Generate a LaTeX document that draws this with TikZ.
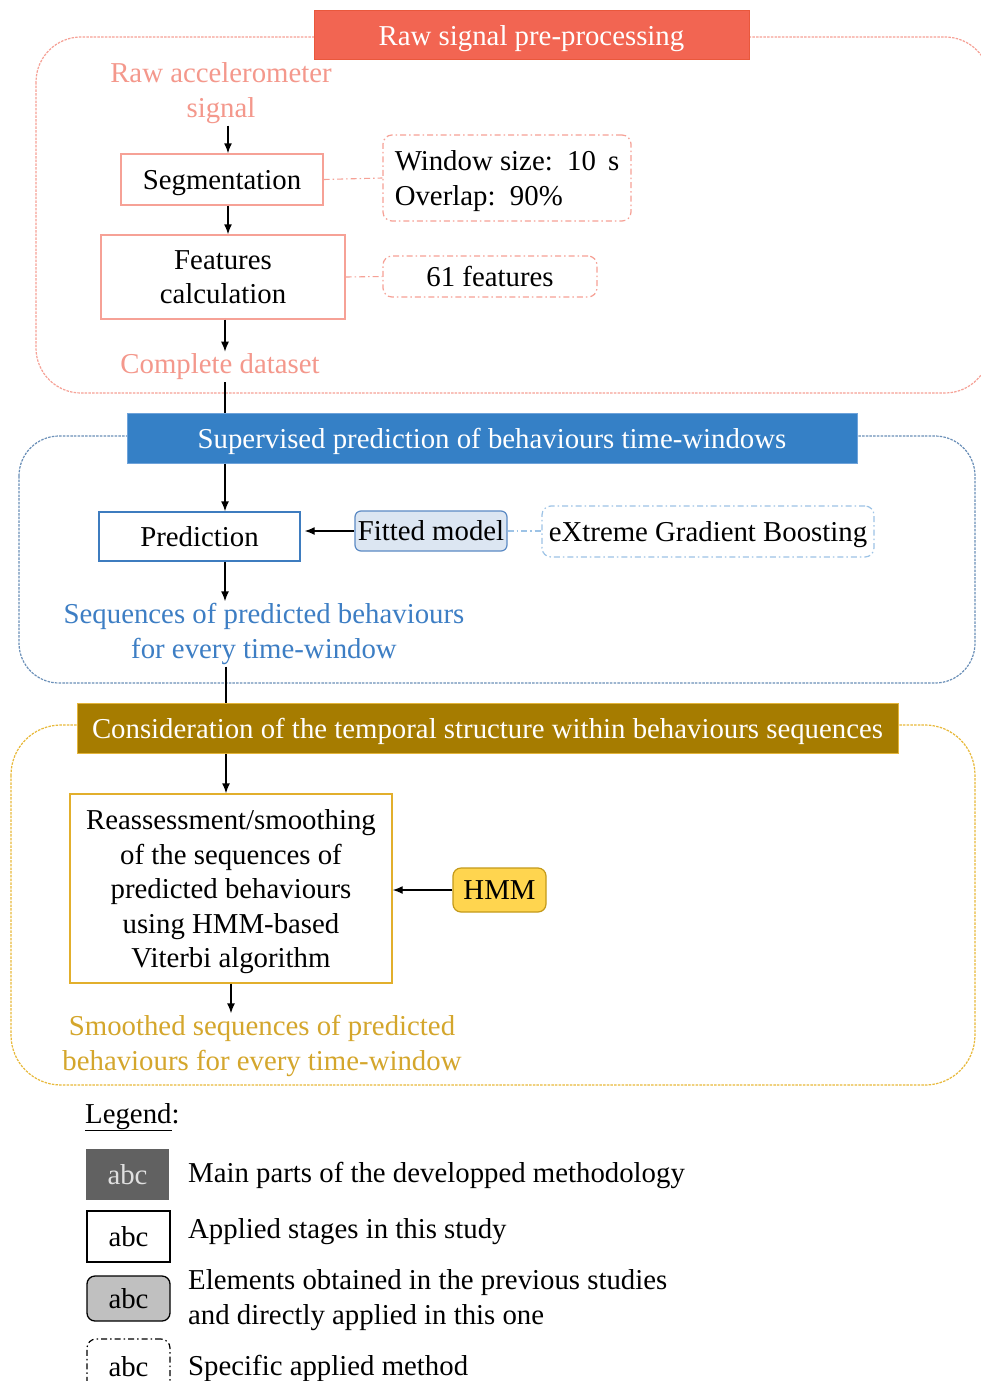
\documentclass[tikz,border=0pt]{standalone}
\usepackage{fontspec}
\setmainfont{Liberation Serif}
\usetikzlibrary{arrows.meta,calc}
\definecolor{salHead}{HTML}{F26552}
\definecolor{salHeadB}{HTML}{E9583C}
\definecolor{salLine}{HTML}{F6A196}
\definecolor{salText}{HTML}{F4988C}
\definecolor{bluHead}{HTML}{3580C6}
\definecolor{bluHeadB}{HTML}{6FA3DA}
\definecolor{bluCont}{HTML}{6A8FB8}
\definecolor{bluBox}{HTML}{3E7CBF}
\definecolor{bluText}{HTML}{3D7EC4}
\definecolor{bluFill}{HTML}{DCE6F2}
\definecolor{bluFillB}{HTML}{5B8AC4}
\definecolor{bluLight}{HTML}{9DC3E6}
\definecolor{gldHead}{HTML}{A67C00}
\definecolor{gldHeadB}{HTML}{E3B43A}
\definecolor{gldCont}{HTML}{E8B93A}
\definecolor{gldBox}{HTML}{E2AF2C}
\definecolor{gldText}{HTML}{D4A62C}
\definecolor{hmmFill}{HTML}{FFD54F}
\definecolor{hmmB}{HTML}{C49A1A}
\definecolor{lgDark}{HTML}{616161}
\definecolor{lgDarkT}{HTML}{E0E0E0}
\definecolor{lgGrey}{HTML}{C0C0C0}
\newcommand{\myfs}{\fontsize{28.8}{34.5}\selectfont}
\begin{document}
\begin{tikzpicture}[x=1pt,y=-1pt,
  every node/.style={font=\myfs, inner sep=0pt, align=center, text depth=0pt},
  cont/.style={line width=1.2pt, dash pattern=on 2.5pt off 1.2pt},
  hdr/.style={text=white, line width=1pt},
  stage/.style={draw, line width=1.4pt, fill=white},
  meth/.style={draw, line width=1.2pt, rounded corners=9pt, dash pattern=on 6pt off 3pt on 1.5pt off 3pt, fill=white},
  link/.style={line width=1.1pt, dash pattern=on 6pt off 3pt on 1.5pt off 3pt},
  arr/.style={line width=1.4pt, -{Latex[length=10pt,width=8pt]}},
  plain/.style={line width=1.4pt},
  lbl/.style={inner sep=2pt, text depth=}
]
\useasboundingbox (0,0) rectangle (980,1381);
\fill[white] (0,0) rectangle (980,1381);

% containers
\draw[cont, salLine, rounded corners=45pt] (36,37) rectangle (990,393);
\draw[cont, bluCont, rounded corners=40pt] (19,436) rectangle (975,683);
\draw[cont, gldCont, rounded corners=50pt] (11,725) rectangle (975,1085);

% spine coordinates
\coordinate (x1) at (228,0);
\coordinate (x2) at (225,0);
\coordinate (x3) at (226,0);
\coordinate (x4) at (231,0);

% ---- section 1
\node[hdr, fill=salHead, draw=salHeadB, minimum width=435, minimum height=49] (h1) at (531.5,35.5) {Raw signal pre-processing};
\node[lbl, text=salText] (raw) at (221,93) {Raw accelerometer\\signal};
\node[stage, draw=salLine, minimum width=202, minimum height=51] (seg) at (222,179.5) {Segmentation};
\node[stage, draw=salLine, minimum width=244, minimum height=84] (feat) at (223,277) {Features\\calculation};
\node[lbl, text=salText] (data) at (220,367) {Complete dataset};
\node[meth, draw=salLine, minimum width=248, minimum height=86, align=left] (win) at (507,178) {Window size: \,10 \,s\\Overlap: \,90\%};
\node[meth, draw=salLine, minimum width=214, minimum height=41] (f61) at (490,276.5) {61 features};

\draw[arr] (raw.south -| x1) -- (seg.north -| x1);
\draw[arr] (seg.south -| x1) -- (feat.north -| x1);
\draw[arr] (feat.south -| x2) -- (data.north -| x2);
\draw[link, salLine] (seg.east) -- (win.west);
\draw[link, salLine] (feat.east) -- (f61.west);

% ---- section 2
\node[hdr, fill=bluHead, draw=bluHeadB, minimum width=730, minimum height=50] (h2) at (492,438) {Supervised prediction of behaviours time-windows};
\node[stage, draw=bluBox, minimum width=201, minimum height=49] (pred) at (199.5,536.5) {Prediction};
\node[draw=bluFillB, fill=bluFill, line width=1.2pt, rounded corners=6pt, minimum width=152, minimum height=40] (fit) at (431,531) {Fitted model};
\node[meth, draw=bluLight, minimum width=332, minimum height=51] (xgb) at (708,531.5) {eXtreme Gradient Boosting};
\node[lbl, text=bluText] (seqs) at (264,634) {Sequences of predicted behaviours\\for every time-window};

\draw[plain] (data.south -| x2) -- (h2.north -| x2);
\draw[arr] (h2.south -| x2) -- (pred.north -| x2);
\draw[arr, shorten >=4pt] (fit.west) -- (pred.east |- fit.west);
\draw[link, bluLight] (fit.east) -- (xgb.west |- fit.east);
\draw[arr] (pred.south -| x2) -- (seqs.north -| x2);

% ---- section 3
\node[hdr, fill=gldHead, draw=gldHeadB, minimum width=821, minimum height=50] (h3) at (487.5,728) {Consideration of the temporal structure within behaviours sequences};
\node[stage, draw=gldBox, minimum width=322, minimum height=189] (reas) at (231,888.5) {Reassessment/smoothing\\of the sequences of\\predicted behaviours\\using HMM-based\\Viterbi algorithm};
\node[draw=hmmB, fill=hmmFill, line width=1.2pt, rounded corners=8pt, minimum width=93, minimum height=44] (hmm) at (499.5,890) {HMM};
\node[lbl, text=gldText] (smooth) at (262,1046) {Smoothed sequences of predicted\\behaviours for every time-window};

\draw[plain] (seqs.south -| x3) -- (h3.north -| x3);
\draw[arr] (h3.south -| x3) -- (reas.north -| x3);
\draw[arr] (hmm.west) -- (reas.east |- hmm.west);
\draw[arr] (reas.south -| x4) -- (smooth.north -| x4);

% ---- legend
\node[anchor=west] (leg) at (85,1113) {\underline{Legend}:};
\node[fill=lgDark, text=lgDarkT, minimum width=83, minimum height=51] (lg1) at (127.5,1174.5) {abc};
\node[anchor=west] (lt1) at (188,1172) {Main parts of the developped methodology};
\node[draw=black, line width=1.5pt, minimum width=83, minimum height=51] (lg2) at (128.5,1236.5) {abc};
\node[anchor=west] (lt2) at (188,1228) {Applied stages in this study};
\node[draw=black, fill=lgGrey, line width=1.3pt, rounded corners=8pt, minimum width=83, minimum height=45] (lg3) at (128.5,1298.5) {abc};
\node[anchor=west, align=left] (lt3) at (188,1297) {Elements obtained in the previous studies\\and directly applied in this one};
\node[meth, draw=black, minimum width=83, minimum height=54] (lg4) at (128.5,1366) {abc};
\node[anchor=west] (lt4) at (188,1365) {Specific applied method};
\end{tikzpicture}
\end{document}
